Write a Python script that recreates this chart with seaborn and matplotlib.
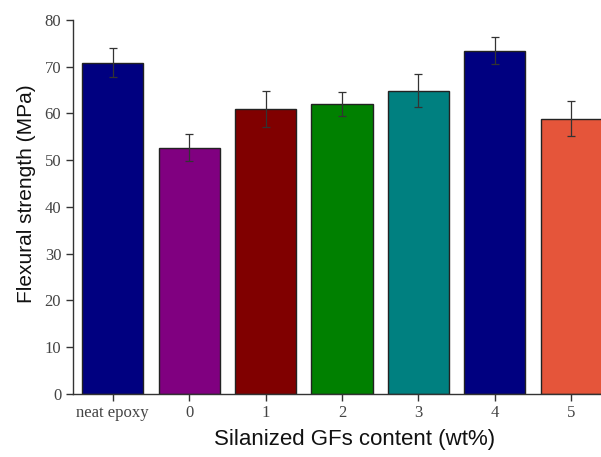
import matplotlib
matplotlib.use("Agg")
import matplotlib.pyplot as plt
import seaborn as sns
import numpy as np
import pandas as pd

categories = ["neat epoxy", "0", "1", "2", "3", "4", "5"]
strength = [70.9, 52.7, 60.9, 62.0, 64.9, 73.4, 58.9]
errors = [3.2, 2.9, 3.8, 2.6, 3.5, 2.9, 3.8]
colors = ["#000080", "#800080", "#800000", "#008000", "#008080", "#000080", "#E5553A"]
yticks = [0, 10, 20, 30, 40, 50, 60, 70, 80]

sns.set_theme(style="white")

df = pd.DataFrame({"cat": categories, "val": strength})

fig = plt.figure(figsize=(6.01, 4.57), dpi=100)
ax = fig.add_axes([0.1215, 0.1387, 0.8785, 0.8175])

sns.barplot(data=df, x="cat", y="val", hue="cat", palette=colors, order=categories,
            hue_order=categories, legend=False, width=0.8, edgecolor="#222222",
            linewidth=1.0, errorbar=None, saturation=1, ax=ax)
ax.errorbar(np.arange(len(categories)), strength, yerr=errors, fmt="none",
            ecolor="#333333", elinewidth=0.9, capsize=3, capthick=0.9)

ax.set_xlim(-0.52, 6.39)
ax.set_ylim(0, 80)
ax.set_yticks(yticks)
ax.set_yticklabels([str(t) for t in yticks])
for s in ["top", "right"]:
    ax.spines[s].set_visible(False)
for s in ["left", "bottom"]:
    ax.spines[s].set_color("#333333")
    ax.spines[s].set_linewidth(1.0)

ax.tick_params(axis="both", which="major", direction="out", length=5, width=1,
               color="#333333", labelcolor="#444444", bottom=True, left=True)
for lab in ax.get_xticklabels() + ax.get_yticklabels():
    lab.set_fontfamily("Liberation Serif")
    lab.set_fontsize(12)

ax.set_xlabel("Silanized GFs content (wt%)", fontfamily="Liberation Sans",
              fontsize=16, color="#111111")
ax.set_ylabel("Flexural strength (MPa)", fontfamily="Liberation Sans",
              fontsize=15, color="#111111")
ax.xaxis.set_label_coords(0.534, -0.094)
ax.yaxis.set_label_coords(-0.07, 0.535)

fig.savefig("out.png", dpi=100)
